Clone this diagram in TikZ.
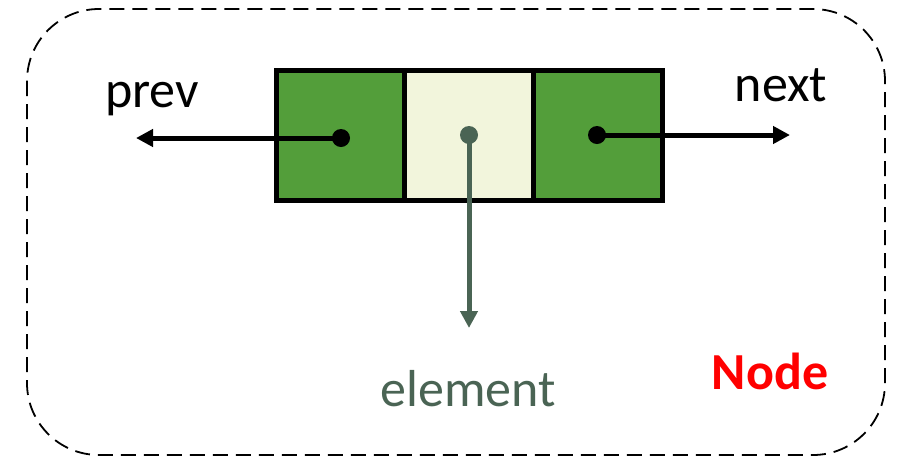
\documentclass[tikz,border=0pt]{standalone}
\usepackage{fontspec}
\setmainfont{Carlito}
\usetikzlibrary{arrows.meta}
\definecolor{cellgreen}{HTML}{539E3A}
\definecolor{cellpale}{HTML}{F2F5DC}
\definecolor{elemgray}{HTML}{4A6454}
\definecolor{nodered}{HTML}{FF0000}
\tikzset{
  cell/.style={draw=black, line width=5pt, minimum width=129pt, minimum height=130pt, inner sep=0pt, outer sep=0pt},
  ptr/.style={line width=5pt, -{Triangle[length=17pt,width=17pt]}},
  dot/.style={circle, fill=black, minimum size=18pt, inner sep=0pt},
  lbl/.style={anchor=base, font=\fontsize{52}{60}\selectfont}
}
\begin{document}
\begin{tikzpicture}[x=1pt, y=-1pt]
  \useasboundingbox (0,0) rectangle (897,459);
  % dashed frame around the whole node
  \draw[line width=1.8pt, dash pattern=on 15pt off 8pt, rounded corners=72pt]
    (27,9) rectangle (885,455);
  % the three cells
  \node[cell, fill=cellgreen] (prevcell) at (340.5,135) {};
  \node[cell, fill=cellpale] (datacell) at (469,135) {};
  \node[cell, fill=cellgreen] (nextcell) at (597.5,135) {};
  % pointer dots
  \node[dot] (pdot) at (341,138) {};
  \node[dot, fill=elemgray] (edot) at (469,135) {};
  \node[dot] (ndot) at (597,135) {};
  % labels
  \node[lbl] (prev) at (152,107) {prev};
  \node[lbl] (next) at (781,101) {next};
  \node[lbl, text=elemgray] (element) at (468,406) {element};
  \node[lbl, text=nodered, font=\fontsize{52}{60}\selectfont\bfseries] (nodelbl) at (770,389) {Node};
  % arrow end points
  \coordinate (pend) at (136,138);
  \coordinate (nend) at (790,135);
  \coordinate (eend) at (469,328);
  % arrows
  \draw[ptr] (pdot.center) -- (pend);
  \draw[ptr] (ndot.center) -- (nend);
  \draw[ptr, draw=elemgray, fill=elemgray] (edot.center) -- (eend);
\end{tikzpicture}
\end{document}
